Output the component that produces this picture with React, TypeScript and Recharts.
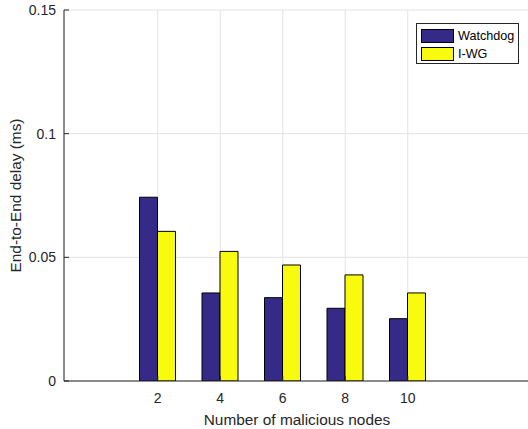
import React from "react";
import { BarChart, Bar, XAxis, YAxis, CartesianGrid, Label } from "recharts";

const nodes = [2, 4, 6, 8, 10];
const watchdog = [0.0743, 0.0356, 0.0337, 0.0294, 0.0252];
const iwg = [0.0605, 0.0524, 0.0469, 0.0429, 0.0356];
const yTicks = [0, 0.05, 0.1, 0.15];

const series = [
  { key: "watchdog", name: "Watchdog", color: "#352a87" },
  { key: "iwg", name: "I-WG", color: "#f9fb0e" },
];

const data = nodes.map((n, i) => ({ n, watchdog: watchdog[i], iwg: iwg[i] }));

const font = "'Liberation Sans', Arial, Helvetica, sans-serif";
const ink = "#262626";

function LegendBox() {
  return (
    <div
      style={{
        position: "absolute",
        left: 416,
        top: 23,
        width: 101,
        height: 39,
        border: `1px solid ${ink}`,
        background: "#fff",
        fontFamily: font,
        fontSize: 12.6,
        color: "#000",
        boxSizing: "content-box",
      }}
    >
      {series.map((s, i) => (
        <div
          key={s.key}
          style={{ position: "absolute", left: 4, top: 5 + i * 18, height: 14, display: "flex", alignItems: "center" }}
        >
          <div style={{ width: 31, height: 12, background: s.color, border: "1px solid #000" }} />
          <span style={{ marginLeft: 4, lineHeight: "14px" }}>{s.name}</span>
        </div>
      ))}
    </div>
  );
}

export default function App() {
  return (
    <div
      style={{
        position: "absolute",
        left: 0,
        top: 0,
        width: 528,
        height: 429,
        overflow: "hidden",
        background: "#fff",
      }}
    >
      <BarChart
        width={580}
        height={429}
        data={data}
        margin={{ top: 10, right: 16, bottom: 0, left: 0 }}
        barGap={0}
        barSize={18}
        style={{ fontFamily: font }}
      >
        <CartesianGrid stroke="#e3e3e3" strokeWidth={1} />
        <XAxis
          dataKey="n"
          type="number"
          domain={[-1, 15]}
          ticks={nodes}
          height={48}
          tickSize={-5}
          tickMargin={17}
          stroke={ink}
          tick={{ fill: ink, fontSize: 14 }}
          allowDataOverflow
        >
          <Label value="Number of malicious nodes" position="insideBottom" offset={4} dx={-17} fill={ink} fontSize={15.4} />
        </XAxis>
        <XAxis
          xAxisId="top"
          orientation="top"
          type="number"
          domain={[-1, 15]}
          ticks={nodes}
          height={0}
          tickSize={-5}
          tick={false}
          stroke={ink}
          allowDataOverflow
        />
        <YAxis
          domain={[0, 0.15]}
          ticks={yTicks}
          width={64}
          tickSize={-5}
          tickMargin={13}
          stroke={ink}
          tick={{ fill: ink, fontSize: 14 }}
          allowDataOverflow
        >
          <Label value="End-to-End delay (ms)" angle={-90} position="center" dx={-16} fill={ink} fontSize={15.4} />
        </YAxis>
        {series.map((s) => (
          <Bar
            key={s.key}
            dataKey={s.key}
            name={s.name}
            fill={s.color}
            stroke="#000"
            strokeWidth={1}
            isAnimationActive={false}
          />
        ))}
      </BarChart>
      <LegendBox />
    </div>
  );
}
